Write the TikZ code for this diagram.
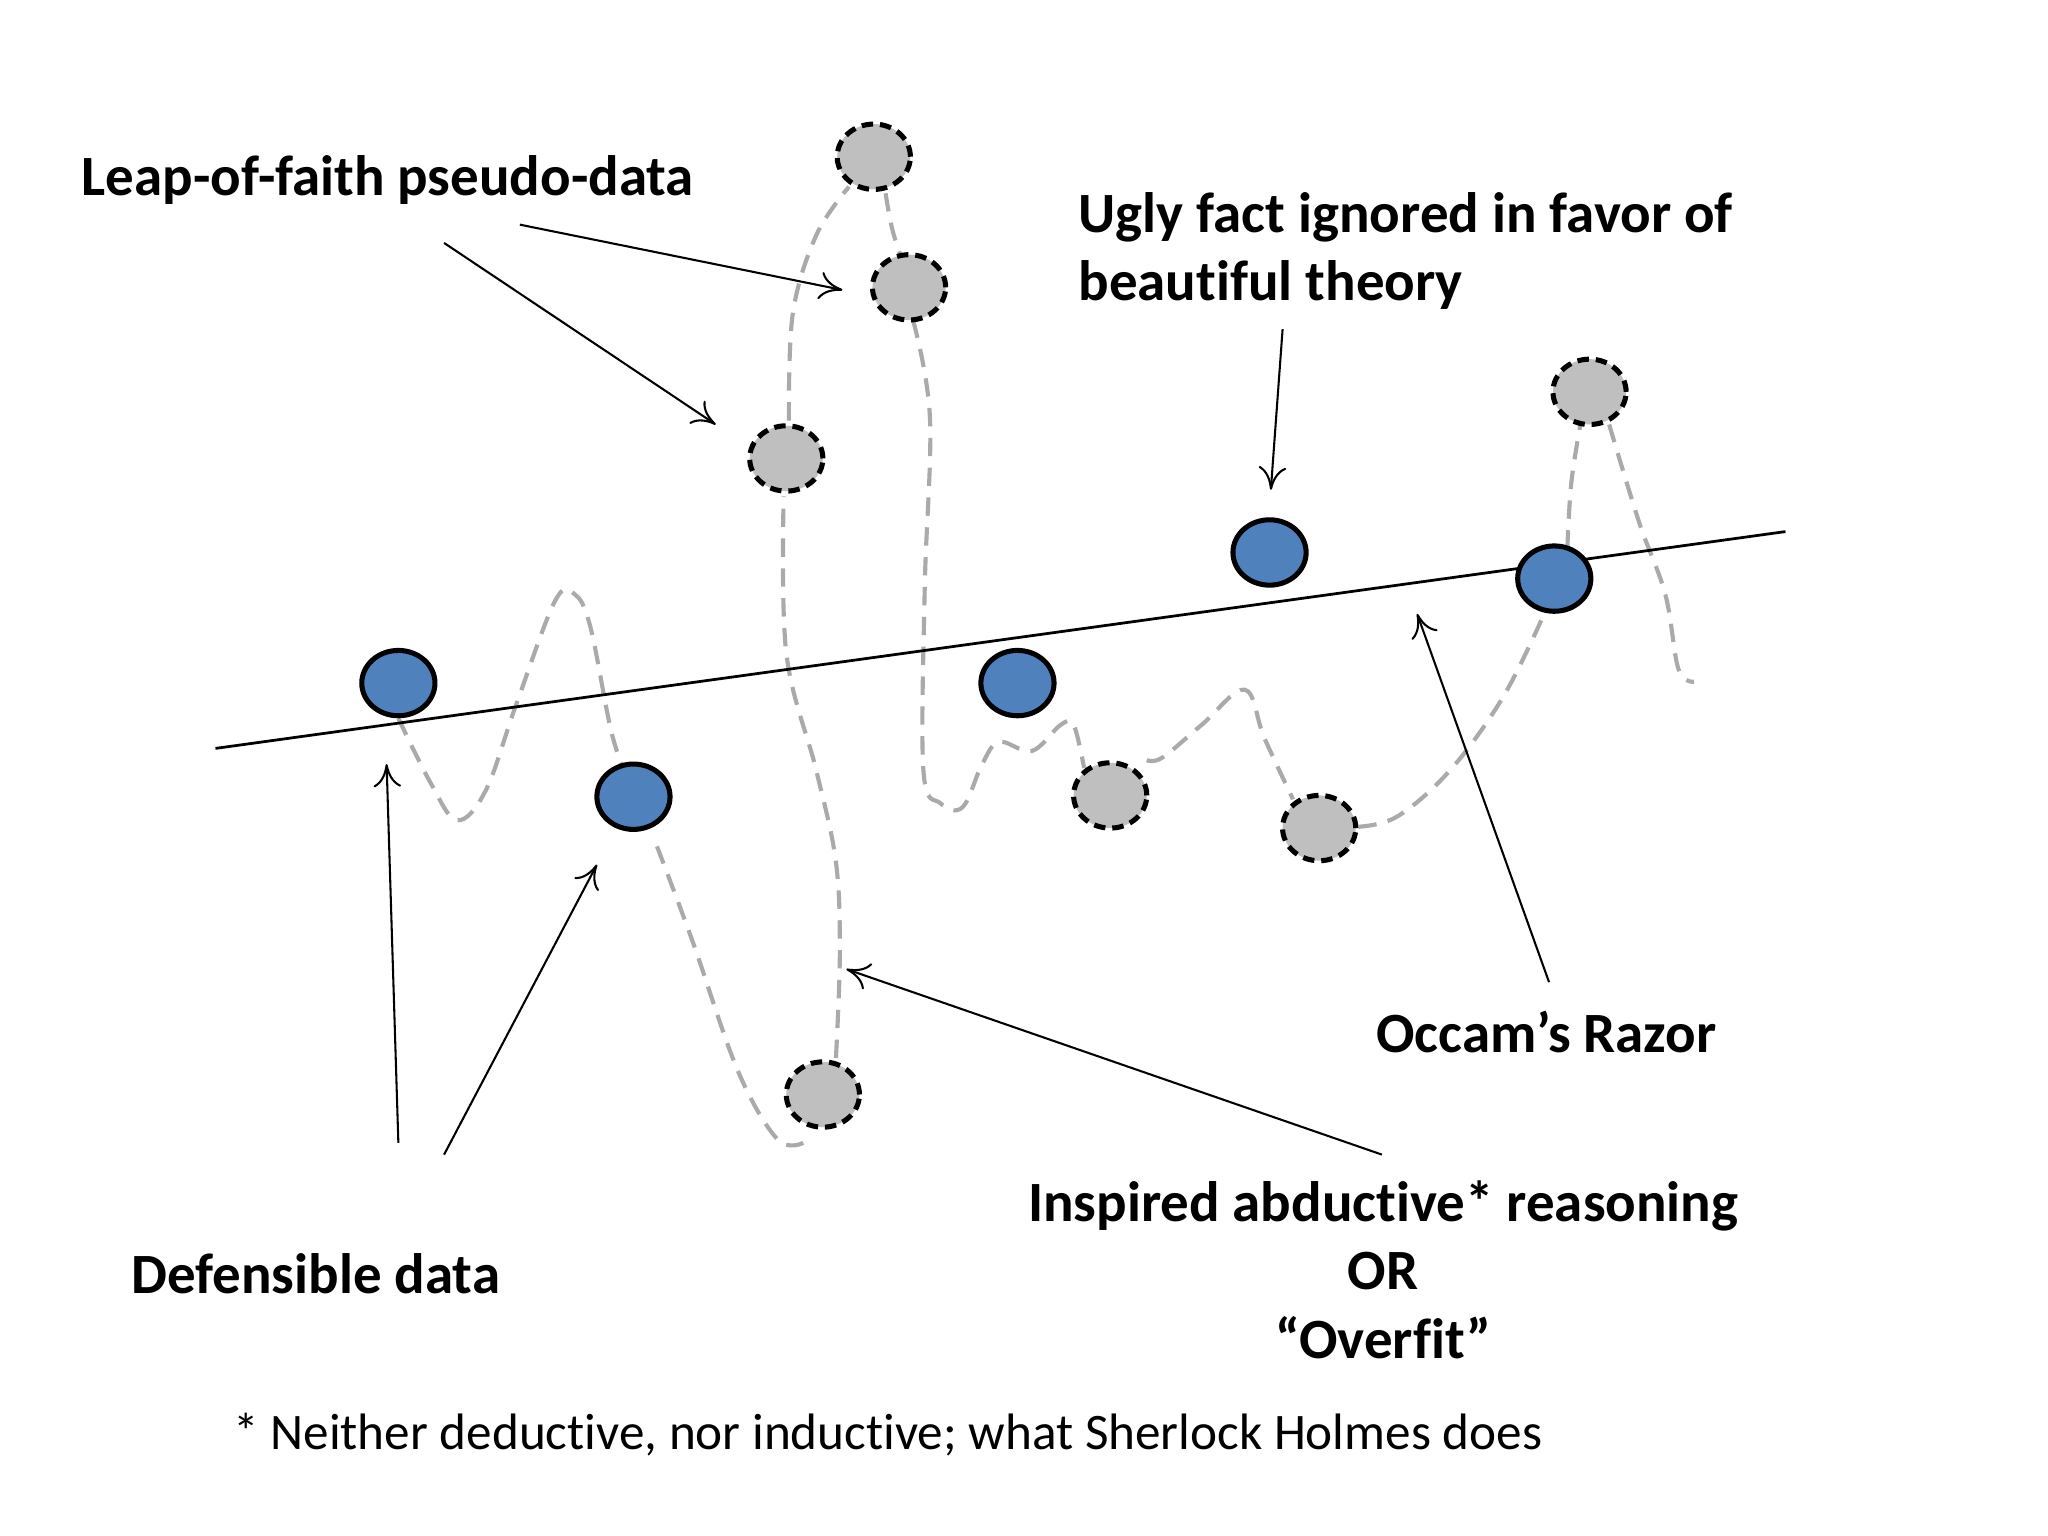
\documentclass[tikz,border=0pt]{standalone}
\usepackage{fontspec}
\setmainfont[Ligatures=NoCommon]{Carlito}
\usetikzlibrary{arrows.meta,shapes.geometric}
\begin{document}
\begin{tikzpicture}[x=0.01cm,y=-0.01cm,
  bluept/.style={ellipse,draw=black,line width=1.1pt,fill={rgb,255:red,79;green,129;blue,189},minimum width=0.56cm,minimum height=0.5cm,inner sep=0pt},
  greypt/.style={ellipse,draw=black,line width=1.1pt,dash pattern=on 2.5pt off 1.5pt,fill={rgb,255:red,191;green,191;blue,191},minimum width=0.56cm,minimum height=0.5cm,inner sep=0pt},
  fitline/.style={draw={rgb,255:red,170;green,170;blue,170},line width=0.9pt,dash pattern=on 4pt off 2.5pt},
  arr/.style={draw=black,line width=0.45pt,-{To[length=5pt,width=6pt]}},
  lbl/.style={font=\fontsize{12.4}{14.9}\selectfont\bfseries,inner sep=0pt}]
\useasboundingbox[fill=white] (0,0) rectangle (1568,1176);
% curve
\draw[fitline] plot[smooth,tension=0.6] coordinates{(305,550)(330,600)(350,628)(372,605)(395,540)(425,460)(440,455)(452,480)(468,560)(480,595)};
\draw[fitline] plot[smooth,tension=0.6] coordinates{(503,648)(530,720)(565,820)(595,872)(615,875)};
\draw[fitline] plot[smooth,tension=0.6] coordinates{(640,810)(643,730)(640,660)(625,590)(602,500)(600,380)};
\draw[fitline] plot[smooth,tension=0.6] coordinates{(604,322)(607,240)(625,180)(650,143)};
\draw[fitline] plot[smooth,tension=0.6] coordinates{(678,148)(683,175)(690,197)};
\draw[fitline] plot[smooth,tension=0.6] coordinates{(699,245)(712,320)(708,450)(707,590)(720,615)(737,618)(752,585)(765,568)(790,575)(812,555)(822,555)(830,588)};
\draw[fitline] plot[smooth,tension=0.6] coordinates{(878,582)(890,580)(920,555)(953,528)(968,565)(990,612)};
\draw[fitline] plot[smooth,tension=0.6] coordinates{(1040,633)(1070,625)(1110,590)(1150,535)(1180,475)};
\draw[fitline] plot[smooth,tension=0.6] coordinates{(1200,420)(1203,370)(1210,325)};
\draw[fitline] plot[smooth,tension=0.6] coordinates{(1232,325)(1255,400)(1275,455)(1285,512)(1297,522)};
% regression line
\draw[line width=0.6pt] (165,573) -- (1367,407);
% points
\node[bluept] (b1) at (305,523) {};
\node[bluept] (b2) at (485,610) {};
\node[bluept] (b3) at (779,523) {};
\node[bluept] (b4) at (972,423) {};
\node[bluept] (b5) at (1190,443) {};
\node[greypt] (g1) at (669,120) {};
\node[greypt] (g2) at (696,220) {};
\node[greypt] (g3) at (602,351) {};
\node[greypt] (g4) at (850,609) {};
\node[greypt] (g5) at (1010,634) {};
\node[greypt] (g6) at (630,838) {};
\node[greypt] (g7) at (1217,300) {};
% labels
\node[lbl,anchor=west] (leap) at (62,138) {Leap-of-faith pseudo-data};
\node[lbl,anchor=west,align=left] (ugly) at (825,192) {Ugly fact ignored in favor of\\beautiful theory};
\node[lbl] (occam) at (1184,790) {Occam’s Razor};
\node[lbl,align=center] (insp) at (1059,972) {Inspired abductive* reasoning\\OR\\“Overfit”};
\node[lbl,anchor=west] (def) at (100,975) {Defensible data};
\node[anchor=west,inner sep=0pt,font=\fontsize{11.15}{13}\selectfont] (note) at (178,1098) {* Neither deductive, nor inductive; what Sherlock Holmes does};
% arrows
\coordinate (a1) at (398,172); \coordinate (a1e) at (645,222);
\coordinate (a2) at (340,186); \coordinate (a2e) at (548,325);
\coordinate (a3) at (982,252); \coordinate (a3e) at (973,375);
\coordinate (a4) at (1186,752); \coordinate (a4e) at (1085,470);
\coordinate (a5) at (1058,884); \coordinate (a5e) at (648,742);
\coordinate (a6) at (305,875); \coordinate (a6e) at (296,585);
\coordinate (a7) at (340,884); \coordinate (a7e) at (457,662);
\draw[arr] (a1) -- (a1e);
\draw[arr] (a2) -- (a2e);
\draw[arr] (a3) -- (a3e);
\draw[arr] (a4) -- (a4e);
\draw[arr] (a5) -- (a5e);
\draw[arr] (a6) -- (a6e);
\draw[arr] (a7) -- (a7e);
\end{tikzpicture}
\end{document}
